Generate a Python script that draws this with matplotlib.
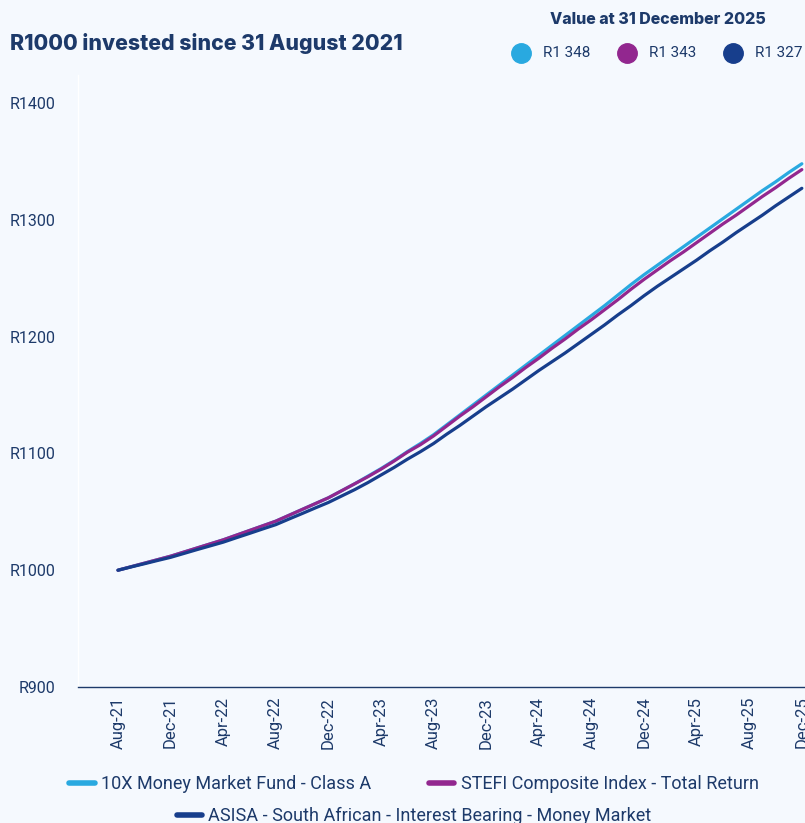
import matplotlib.pyplot as plt
from matplotlib.lines import Line2D

plt.rcParams['font.family'] = ['Roboto', 'DejaVu Sans']

months = ['Aug-21', 'Sep-21', 'Oct-21', 'Nov-21', 'Dec-21',
          'Jan-22', 'Feb-22', 'Mar-22', 'Apr-22', 'May-22', 'Jun-22', 'Jul-22',
          'Aug-22', 'Sep-22', 'Oct-22', 'Nov-22', 'Dec-22',
          'Jan-23', 'Feb-23', 'Mar-23', 'Apr-23', 'May-23', 'Jun-23', 'Jul-23',
          'Aug-23', 'Sep-23', 'Oct-23', 'Nov-23', 'Dec-23',
          'Jan-24', 'Feb-24', 'Mar-24', 'Apr-24', 'May-24', 'Jun-24', 'Jul-24',
          'Aug-24', 'Sep-24', 'Oct-24', 'Nov-24', 'Dec-24',
          'Jan-25', 'Feb-25', 'Mar-25', 'Apr-25', 'May-25', 'Jun-25', 'Jul-25',
          'Aug-25', 'Sep-25', 'Oct-25', 'Nov-25', 'Dec-25']

fund_10x = [1000, 1003, 1006, 1009, 1012,
            1015.5, 1019, 1022.5, 1026, 1030, 1034, 1038,
            1042, 1047, 1052, 1057, 1062,
            1068, 1074, 1080.5, 1087, 1094, 1101.5, 1108.5,
            1116, 1124.5, 1133, 1141.5, 1150,
            1158.5, 1167, 1175.5, 1184, 1192.5, 1201, 1209.5,
            1218, 1226.5, 1235.5, 1244.5, 1253,
            1261, 1269, 1277, 1285, 1293, 1301, 1309,
            1317, 1325, 1332.5, 1340.5, 1348]

stefi = [1000, 1003, 1006, 1009, 1012,
         1015.5, 1019, 1022.5, 1026, 1030, 1034, 1038,
         1042, 1047, 1052, 1057, 1062,
         1068, 1074, 1080, 1086.5, 1093.5, 1101, 1107.5,
         1115, 1123.5, 1132, 1140, 1148.5,
         1157, 1165, 1173.5, 1181.5, 1190, 1198, 1206.5,
         1214.5, 1223, 1231.5, 1240.5, 1249,
         1257, 1265, 1272.5, 1280.5, 1288.5, 1296.5, 1304,
         1312, 1320, 1327.5, 1335.5, 1343]

asisa = [1000, 1002.8, 1005.5, 1008.3, 1011,
         1014.3, 1017.6, 1020.8, 1024, 1027.8, 1031.5, 1035.3,
         1039, 1043.8, 1048.5, 1053.3, 1058,
         1063.5, 1069, 1075, 1081.5, 1088, 1095, 1101.5,
         1108.5, 1116.5, 1124, 1132, 1140,
         1147.5, 1155, 1163, 1171, 1178.5, 1186, 1194,
         1202, 1210, 1218.5, 1226.5, 1235,
         1243, 1250.5, 1258, 1265.5, 1273.5, 1281, 1289,
         1296.5, 1304, 1312, 1319.5, 1327]

series_names = ['10X Money Market Fund - Class A',
                'STEFI Composite Index - Total Return',
                'ASISA - South African - Interest Bearing - Money Market']
end_labels = ['R1 348', 'R1 343', 'R1 327']
colors = ['#29A9E0', '#92278F', '#173E8C']
text_col = '#1D3A6A'
bg = '#F5F9FE'

fig = plt.figure(figsize=(8.05, 8.23), dpi=100, facecolor=bg)
ax = fig.add_axes([78 / 805, 136 / 823, 727 / 805, 612 / 823], facecolor=bg)

x = list(range(len(months)))
for vals, c in zip([fund_10x, stefi, asisa], colors):
    ax.plot(x, vals, color=c, lw=2.3, solid_capstyle='round')

ax.set_xlim(-3.04, 52.24)
ax.set_ylim(900, 1424)
ax.set_yticks([900, 1000, 1100, 1200, 1300, 1400])
ax.set_yticklabels(['R900', 'R1000', 'R1100', 'R1200', 'R1300', 'R1400'])
ax.set_xticks(x[::4])
ax.set_xticklabels(months[::4], rotation=90)
ax.tick_params(axis='y', length=0, pad=16, labelsize=11.5, labelcolor=text_col)
ax.tick_params(axis='x', length=0, pad=7, labelsize=12, labelcolor=text_col)

for s in ['top', 'right']:
    ax.spines[s].set_visible(False)
ax.spines['left'].set_color('white')
ax.spines['left'].set_linewidth(1)
ax.spines['bottom'].set_color(text_col)
ax.spines['bottom'].set_linewidth(1)

# titles
fig.text(10 / 805, 1 - 43 / 823, 'R1000 invested since 31 August 2021',
         fontsize=15.3, fontweight='heavy', color=text_col, family=['Inter', 'DejaVu Sans'],
         va='center', ha='left')
fig.text(658 / 805, 1 - 19 / 823, 'Value at 31 December 2025',
         fontsize=11.5, fontweight='heavy', color=text_col, family=['Inter', 'DejaVu Sans'],
         va='center', ha='center')

# end value markers
for i, (lab, c) in enumerate(zip(end_labels, colors)):
    cx = (521 + 106 * i) / 805
    fig.add_artist(Line2D([cx], [1 - 53 / 823], marker='o', markersize=14,
                          color=c, linestyle='none'))
    fig.text(cx + 22 / 805, 1 - 53 / 823, lab, fontsize=11, color=text_col,
             va='center', ha='left')

# bottom legend
handles = [Line2D([], [], color=c, lw=4, solid_capstyle='round') for c in colors]
fig.legend(handles[:2], series_names[:2], ncol=2, loc='center',
           bbox_to_anchor=(414 / 805, 1 - 784 / 823), frameon=False,
           fontsize=13, labelcolor=text_col, handlelength=1.4,
           handletextpad=0.35, columnspacing=3.2)
fig.legend(handles[2:], series_names[2:], loc='center',
           bbox_to_anchor=(414 / 805, 1 - 816 / 823), frameon=False,
           fontsize=13, labelcolor=text_col, handlelength=1.4, handletextpad=0.35)

fig.savefig('out.png', dpi=100, facecolor=bg)
